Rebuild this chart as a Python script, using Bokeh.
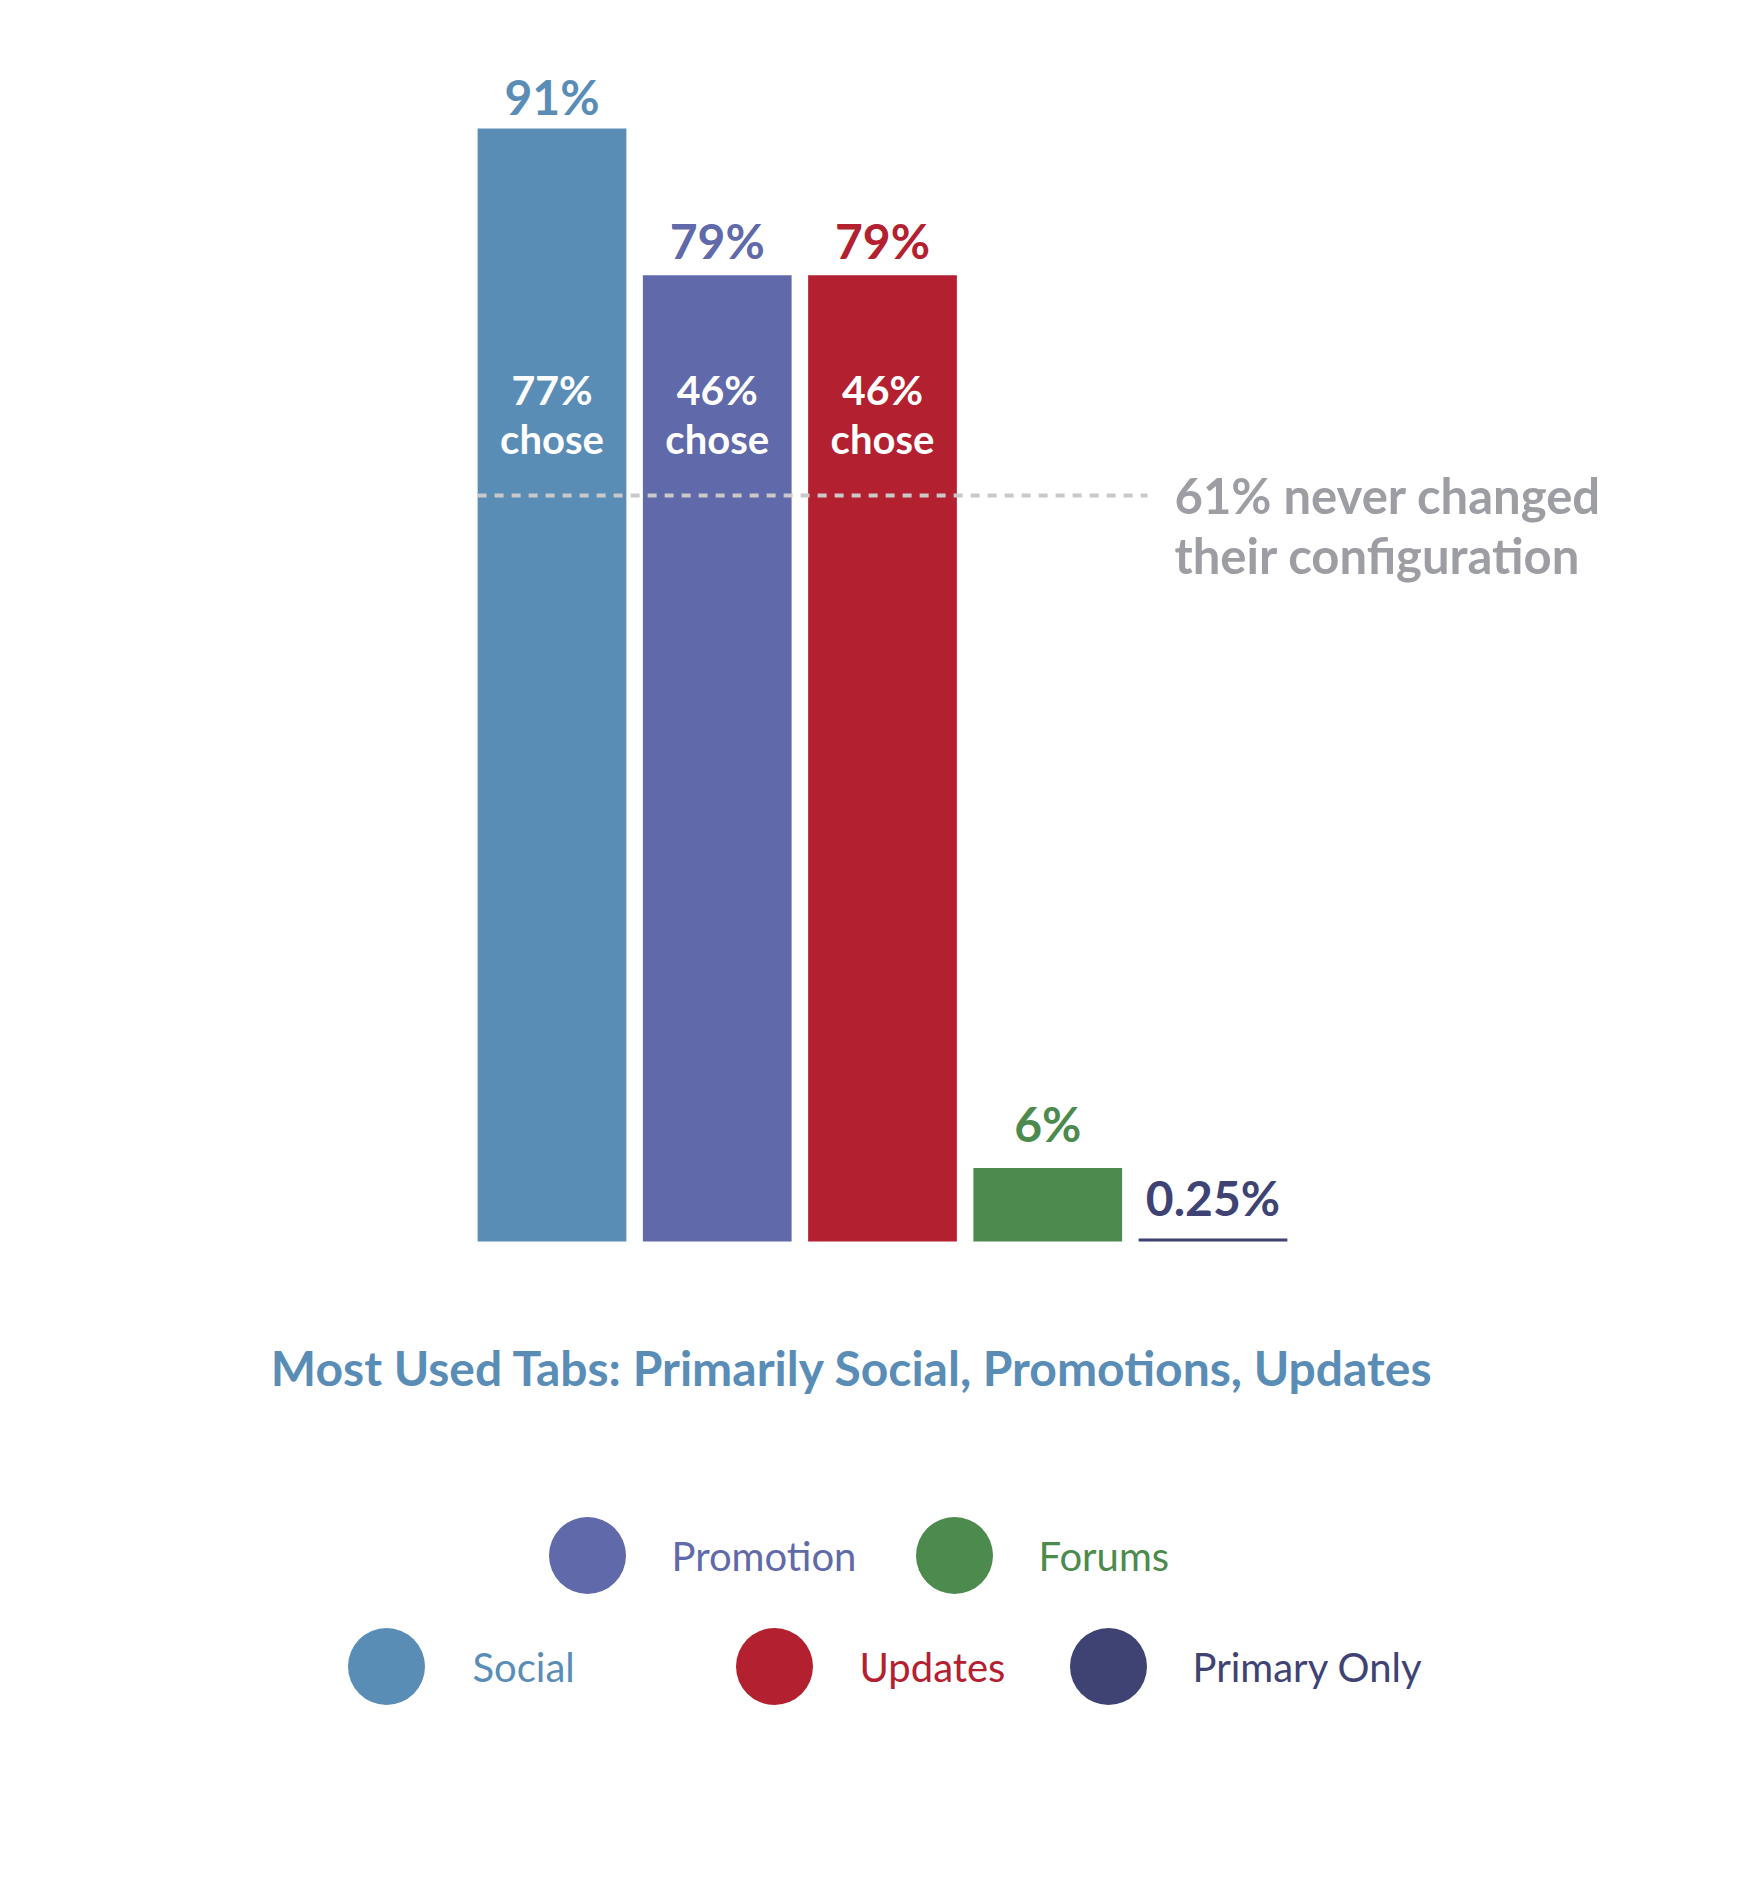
from bokeh.plotting import figure
from bokeh.models import ColumnDataSource, Range1d
from bokeh.embed import file_html
from bokeh.resources import INLINE
from bokeh.core.properties import value

# ---- data ----
categories = ["Social", "Promotion", "Updates", "Forums", "Primary Only"]
values = [91, 79, 79, 6, 0.25]
value_labels = ["91%", "79%", "79%", "6%", "0.25%"]
chose_labels = ["77%", "46%", "46%"]
never_changed = 61
never_changed_text = ["61% never changed", "their configuration"]
title_text = "Most Used Tabs: Primarily Social, Promotions, Updates"
colors = ["#5a8db6", "#6069a9", "#b3202f", "#4c8a4d", "#3e4373"]

# legend layout (order as drawn)
legend_row1 = ["Promotion", "Forums"]
legend_row2 = ["Social", "Updates", "Primary Only"]

W, H = 1748, 1888
PX_X = 165.25          # pixels per category step
PX_Y = 12.231          # pixels per percent
X0 = -551.5 / PX_X
Y1 = 1241 / PX_Y
TXT = -17              # text baseline correction (px)
label_pad = [15, 18, 18, 28, 24]   # style: gap between bar top and its label (px)

def dx(px):  # page x -> data x
    return X0 + px / PX_X

def dy(py):  # page y -> data y
    return Y1 - py / PX_Y

FONT = value("Lato")

p = figure(width=W, height=H, output_backend="svg", toolbar_location=None,
           x_range=Range1d(X0, X0 + W / PX_X), y_range=Range1d(Y1 - H / PX_Y, Y1),
           x_axis_location=None, y_axis_location=None, min_border=0,
           outline_line_color=None, background_fill_color="white")
p.xgrid.visible = False
p.ygrid.visible = False

idx = list(range(len(categories)))
src = ColumnDataSource(dict(x=idx, top=values, color=colors, label=value_labels, cat=categories,
                            off=[-g + TXT for g in label_pad]))
p.vbar(x="x", top="top", bottom=0, width=0.9, fill_color="color", line_color=None, source=src)

# value labels above bars
p.text(x="x", y="top", text="label", text_color="color", source=src, y_offset="off",
       text_align="center", text_baseline="alphabetic", text_font=FONT,
       text_font_style="bold", text_font_size="48px")

# inner "xx% chose" labels
n = len(chose_labels)
p.text(x=idx[:n], y=[dy(406)] * n, text=chose_labels, text_color="white", y_offset=TXT,
       text_align="center", text_baseline="alphabetic", text_font=FONT,
       text_font_style="bold", text_font_size="41px")
p.text(x=idx[:n], y=[dy(455)] * n, text=["chose"] * n, text_color="white", y_offset=TXT,
       text_align="center", text_baseline="alphabetic", text_font=FONT,
       text_font_style="bold", text_font_size="40px")

# dashed 61% line
p.line(x=[-0.45, dx(1147)], y=[never_changed, never_changed], line_color="#c9c9c9",
       line_width=4, line_dash="9 8")
p.text(x=[dx(1174)] * 2, y=[dy(511), dy(571)], text=never_changed_text, text_color="#9d9ea3",
       y_offset=TXT, text_align="left", text_baseline="alphabetic", text_font=FONT,
       text_font_style="bold", text_font_size="49px")

# title
p.text(x=[dx(852)], y=[dy(1384)], text=[title_text], text_color="#5a8db6", y_offset=TXT,
       text_align="center", text_baseline="alphabetic", text_font=FONT,
       text_font_style="bold", text_font_size="48px")

# legend
circle_x = {"Promotion": 587, "Forums": 954, "Social": 386, "Updates": 774, "Primary Only": 1108}
text_x = {"Promotion": 671, "Forums": 1038, "Social": 472, "Updates": 859, "Primary Only": 1192}
cmap = dict(zip(categories, colors))
for row, cy, by in ((legend_row1, 1555, 1572), (legend_row2, 1666, 1683)):
    p.scatter(x=[dx(circle_x[c]) for c in row], y=[dy(cy)] * len(row), size=77,
              fill_color=[cmap[c] for c in row], line_color=None, marker="circle")
    p.text(x=[dx(text_x[c]) for c in row], y=[dy(by)] * len(row), text=row, y_offset=TXT,
           text_color=[cmap[c] for c in row], text_align="left", text_baseline="alphabetic",
           text_font=FONT, text_font_size="40px")

open("out.html", "w").write(file_html(p, INLINE))
